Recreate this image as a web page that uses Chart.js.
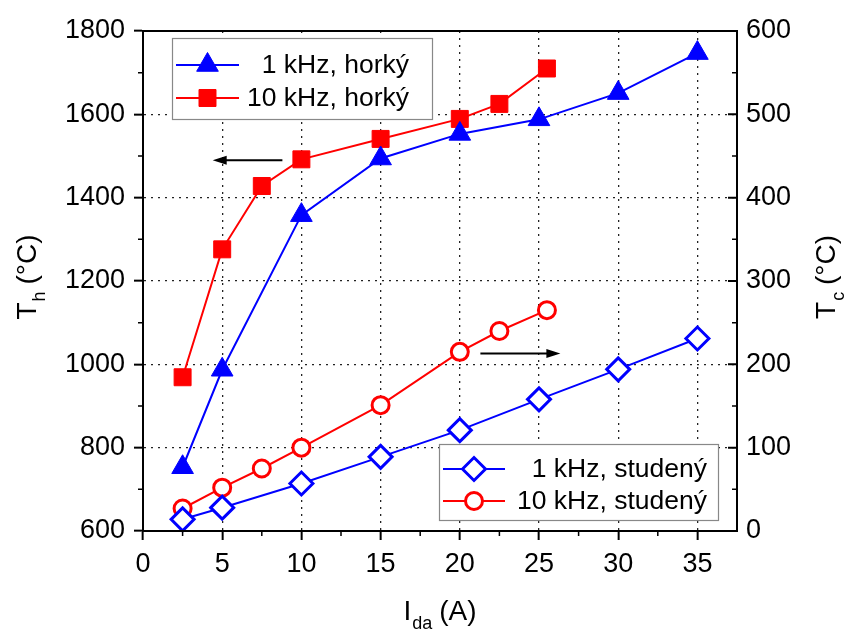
<!DOCTYPE html>
<html>
<head>
<meta charset="utf-8">
<script src="https://cdn.jsdelivr.net/npm/chart.js@4/dist/chart.umd.min.js"></script>
<style>
  html, body { margin: 0; padding: 0; background: #fff; }
  #wrap { width: 848px; height: 629px; }
</style>
</head>
<body>
<div id="wrap"><canvas id="graf" width="848" height="629"></canvas></div>
<script>
// proud (A)
const proud1k = [2.5, 5, 10, 15, 20, 25, 30, 35];
const proud10k = [2.5, 5, 7.5, 10, 15, 20, 22.5, 25.5];
// horky konec T_h (°C)
const horky1k = [753, 987, 1358, 1494, 1553, 1588, 1651, 1747];
const horky10k = [969, 1276, 1428, 1492, 1541, 1589, 1625, 1710];
// studeny konec T_c (°C)
const studeny1k = [14, 28, 57, 89, 121, 158, 194, 231];
const studeny10k = [27, 52, 75, 100, 151, 215, 240, 265];

const nazvy = ["1 kHz, horký", "10 kHz, horký", "1 kHz, studený", "10 kHz, studený"];
const xTicks = [0, 5, 10, 15, 20, 25, 30, 35];
const thTicks = [600, 800, 1000, 1200, 1400, 1600, 1800];
const tcTicks = [0, 100, 200, 300, 400, 500, 600];

// sipky: ktera osa, odkud, kam (v jednotkach dat)
const sipky = [
  { osa: "y", x1: 8.8, x2: 4.4, y: 1490 },
  { osa: "y2", x1: 21.3, x2: 26.35, y: 213 }
];

const FONT = "'Liberation Sans', Arial, sans-serif";
const MODRA = "#0000ff", CERVENA = "#ff0000";

function body(xs, ys) {
  return xs.map((x, i) => ({ x: x, y: ys[i] }));
}

function kresliZnacku(ctx, ds, x, y) {
  ctx.save();
  ctx.fillStyle = ds.pointBackgroundColor;
  ctx.strokeStyle = ds.pointBorderColor;
  ctx.lineWidth = ds.pointBorderWidth;
  const opts = { pointStyle: ds.pointStyle, radius: ds.pointRadius, rotation: 0, borderWidth: ds.pointBorderWidth };
  if (Chart.helpers && Chart.helpers.drawPoint) {
    Chart.helpers.drawPoint(ctx, opts, x, y);
  } else {
    ctx.beginPath();
    ctx.arc(x, y, ds.pointRadius, 0, Math.PI * 2);
    ctx.fill(); ctx.stroke();
  }
  ctx.restore();
}

function legenda(ctx, chart, idx, box) {
  ctx.save();
  ctx.fillStyle = "#fff";
  ctx.fillRect(box.x, box.y, box.w, box.h);
  ctx.strokeStyle = "#888";
  ctx.lineWidth = 1.2;
  ctx.strokeRect(box.x + 0.5, box.y + 0.5, box.w, box.h);
  ctx.font = "26.5px " + FONT;
  ctx.textAlign = "right";
  ctx.textBaseline = "middle";
  idx.forEach((di, r) => {
    const ds = chart.data.datasets[di];
    const yy = box.y + box.row0 + r * box.dy;
    ctx.strokeStyle = ds.borderColor;
    ctx.lineWidth = 2;
    ctx.beginPath();
    ctx.moveTo(box.x + 4, yy);
    ctx.lineTo(box.x + box.lineW, yy);
    ctx.stroke();
    kresliZnacku(ctx, ds, box.x + 4 + (box.lineW - 4) / 2, yy);
    ctx.fillStyle = "#000";
    ctx.fillText(nazvy[di], box.x + box.w - box.textR, yy + 1);
  });
  ctx.restore();
}

// text s dolnim indexem, vycentrovany na (cx, base)
function titulek(ctx, hlavni, index, zbytek, cx, base, rot) {
  ctx.save();
  ctx.translate(cx, base);
  ctx.rotate(rot);
  ctx.fillStyle = "#000";
  ctx.textBaseline = "alphabetic";
  ctx.textAlign = "left";
  const f1 = "28px " + FONT, f2 = "18px " + FONT;
  ctx.font = f1; const w1 = ctx.measureText(hlavni).width;
  ctx.font = f2; const w2 = ctx.measureText(index).width;
  ctx.font = f1; const w3 = ctx.measureText(zbytek).width;
  let x = -(w1 + w2 + w3) / 2;
  ctx.font = f1; ctx.fillText(hlavni, x, 0); x += w1 + 1;
  ctx.font = f2; ctx.fillText(index, x, 9); x += w2 - 1;
  ctx.font = f1; ctx.fillText(zbytek, x, 0);
  ctx.restore();
}

const doplnky = {
  id: "doplnky",
  afterDatasetsDraw(chart) {
    const ctx = chart.ctx;
    const a = chart.chartArea;
    const sx = chart.scales.x;

    // ramecek
    ctx.save();
    ctx.strokeStyle = "#000";
    ctx.lineWidth = 2;
    ctx.strokeRect(a.left, a.top, a.right - a.left, a.bottom - a.top);

    // vedlejsi znacky
    ctx.lineWidth = 1.5;
    ctx.beginPath();
    for (let v = 2.5; v < 37.5; v += 5) {
      const px = sx.getPixelForValue(v);
      ctx.moveTo(px, a.bottom); ctx.lineTo(px, a.bottom + 5);
    }
    const sy = chart.scales.y, sy2 = chart.scales.y2;
    for (let v = 700; v < 1800; v += 200) {
      const py = sy.getPixelForValue(v);
      ctx.moveTo(a.left - 5, py); ctx.lineTo(a.left, py);
    }
    for (let v = 50; v < 600; v += 100) {
      const py = sy2.getPixelForValue(v);
      ctx.moveTo(a.right - 5, py); ctx.lineTo(a.right, py);
    }
    ctx.stroke();
    ctx.lineWidth = 2;
    ctx.beginPath();
    tcTicks.forEach(v => {
      const py = sy2.getPixelForValue(v);
      ctx.moveTo(a.right - 9, py); ctx.lineTo(a.right, py);
    });
    ctx.stroke();

    // sipky
    sipky.forEach(s => {
      const osa = chart.scales[s.osa];
      const x1 = sx.getPixelForValue(s.x1), x2 = sx.getPixelForValue(s.x2);
      const py = osa.getPixelForValue(s.y);
      const dir = Math.sign(x2 - x1);
      ctx.strokeStyle = "#000";
      ctx.fillStyle = "#000";
      ctx.lineWidth = 2;
      ctx.beginPath();
      ctx.moveTo(x1, py); ctx.lineTo(x2 - dir * 10, py);
      ctx.stroke();
      ctx.beginPath();
      ctx.moveTo(x2, py);
      ctx.lineTo(x2 - dir * 14, py - 4.5);
      ctx.lineTo(x2 - dir * 14, py + 4.5);
      ctx.closePath();
      ctx.fill();
    });
    ctx.restore();

    legenda(ctx, chart, [0, 1], { x: 172, y: 38, w: 260, h: 81, row0: 27, dy: 33, lineW: 67, textR: 23 });
    legenda(ctx, chart, [2, 3], { x: 439, y: 444, w: 279, h: 76, row0: 25, dy: 32, lineW: 66, textR: 11 });
  },
  afterDraw(chart) {
    const ctx = chart.ctx;
    titulek(ctx, "T", "h", " (°C)", 36, 277, -Math.PI / 2);
    titulek(ctx, "T", "c", " (°C)", 835, 277, -Math.PI / 2);
    titulek(ctx, "I", "da", " (A)", 440, 620, 0);
  }
};

function bod(barva, styl, r, vypln, bw) {
  return {
    borderColor: barva,
    backgroundColor: barva,
    borderWidth: 2,
    pointStyle: styl,
    pointRadius: r,
    pointHoverRadius: r,
    pointBackgroundColor: vypln,
    pointBorderColor: barva,
    pointBorderWidth: bw,
    tension: 0,
    fill: false
  };
}

const osaTick = { color: "#000", font: { family: FONT, size: 27 }, callback: v => String(v) };

new Chart(document.getElementById("graf"), {
  type: "line",
  data: {
    datasets: [
      Object.assign({ label: nazvy[0], data: body(proud1k, horky1k), yAxisID: "y" }, bod(MODRA, "triangle", 12.5, MODRA, 1)),
      Object.assign({ label: nazvy[1], data: body(proud10k, horky10k), yAxisID: "y" }, bod(CERVENA, "rect", 12, CERVENA, 1)),
      Object.assign({ label: nazvy[2], data: body(proud1k, studeny1k), yAxisID: "y2" }, bod(MODRA, "rectRot", 11.5, "#fff", 3)),
      Object.assign({ label: nazvy[3], data: body(proud10k, studeny10k), yAxisID: "y2" }, bod(CERVENA, "circle", 8.5, "#fff", 3))
    ]
  },
  options: {
    responsive: false,
    animation: false,
    clip: false,
    layout: { padding: { top: 31, left: 0, right: 0, bottom: 0 } },
    plugins: { legend: { display: false }, tooltip: { enabled: false } },
    scales: {
      x: {
        type: "linear",
        min: 0, max: 37.5,
        afterFit: s => { s.height = 98; },
        afterBuildTicks: s => { s.ticks = xTicks.map(v => ({ value: v })); },
        ticks: Object.assign({ padding: 8, maxRotation: 0 }, osaTick),
        grid: { color: "#222", lineWidth: 1.3, tickLength: 9, tickColor: "#000", tickWidth: 2 },
        border: { display: true, color: "#000", width: 2, dash: [2, 5] }
      },
      y: {
        position: "left",
        min: 600, max: 1800,
        afterFit: s => { s.width = 143; },
        afterBuildTicks: s => { s.ticks = thTicks.map(v => ({ value: v })); },
        ticks: Object.assign({ padding: 9 }, osaTick),
        grid: { color: "#222", lineWidth: 1.3, tickLength: 9, tickColor: "#000", tickWidth: 2 },
        border: { display: true, color: "#000", width: 2, dash: [2, 5] }
      },
      y2: {
        position: "right",
        min: 0, max: 600,
        afterFit: s => { s.width = 111; },
        afterBuildTicks: s => { s.ticks = tcTicks.map(v => ({ value: v })); },
        ticks: Object.assign({ padding: 9 }, osaTick),
        grid: { display: true, drawOnChartArea: false, drawTicks: false },
        border: { display: true, color: "#000", width: 2 }
      }
    }
  },
  plugins: [doplnky]
});
</script>
</body>
</html>
